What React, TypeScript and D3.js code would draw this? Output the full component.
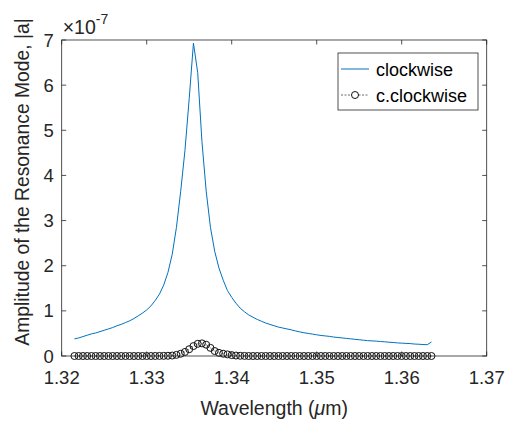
import React from "react";
import * as d3 from "d3";

const W = 511;
const H = 421;

// wavelength grid (µm)
const wlStart = 1.3215;
const wlStep = 0.0005;

// clockwise amplitude (×1e-7)
const clockwise = [
  0.38, 0.40, 0.43, 0.46, 0.49, 0.51, 0.54, 0.57, 0.60, 0.63,
  0.67, 0.70, 0.74, 0.78, 0.83, 0.89, 0.95, 1.02, 1.11, 1.23,
  1.37, 1.57, 1.85, 2.25, 2.85, 3.65, 4.55, 5.70, 6.93, 6.28,
  4.75, 3.65, 2.85, 2.32, 1.95, 1.68, 1.45, 1.30, 1.17, 1.06,
  0.98, 0.91, 0.86, 0.81, 0.77, 0.73, 0.70, 0.67, 0.64, 0.62,
  0.60, 0.58, 0.555, 0.535, 0.515, 0.50, 0.485, 0.47, 0.455, 0.445,
  0.435, 0.42, 0.41, 0.40, 0.39, 0.38, 0.37, 0.36, 0.35, 0.34,
  0.335, 0.33, 0.32, 0.315, 0.305, 0.30, 0.29, 0.285, 0.28, 0.275,
  0.265, 0.26, 0.255, 0.25, 0.31,
];

// counter-clockwise amplitude (×1e-7)
const cclockwise = [
  0, 0, 0, 0, 0, 0, 0, 0, 0, 0,
  0, 0, 0, 0, 0, 0, 0, 0, 0, 0.001,
  0.002, 0.003, 0.005, 0.01, 0.025, 0.05, 0.09, 0.15, 0.22, 0.27,
  0.28, 0.25, 0.18, 0.11, 0.07, 0.05, 0.035, 0.02, 0.01, 0.005,
  0.002, 0, 0, 0, 0, 0, 0, 0, 0, 0,
  0, 0, 0, 0, 0, 0, 0, 0, 0, 0,
  0, 0, 0, 0, 0, 0, 0, 0, 0, 0,
  0, 0, 0, 0, 0, 0, 0, 0, 0, 0,
  0, 0, 0, 0, 0,
];

const xTicks = [1.32, 1.33, 1.34, 1.35, 1.36, 1.37];
const yTicks = [0, 1, 2, 3, 4, 5, 6, 7];
const legendLabels = ["clockwise", "c.clockwise"];

const margin = { left: 61.7, right: W - 486.7, top: 40, bottom: H - 356 };
const FONT = "Arial, 'Liberation Sans', Helvetica, sans-serif";
const AX = "#262626";

export default function App() {
  const x = d3.scaleLinear().domain([1.32, 1.37]).range([margin.left, W - margin.right]);
  const y = d3.scaleLinear().domain([0, 7]).range([H - margin.bottom, margin.top]);
  const wl = clockwise.map((_, i) => wlStart + wlStep * i);
  const line = d3
    .line<number>()
    .x((_, i) => x(wl[i]))
    .y((d) => y(d));

  const x0 = x.range()[0], x1 = x.range()[1];
  const y0 = y.range()[0], y1 = y.range()[1];
  const tl = 4.5;

  const lgX = 338, lgY = 53, lgW = 140, lgH = 57;

  return (
    <div style={{ position: "absolute", left: 0, top: 0 }}>
      <svg width={W} height={H} style={{ display: "block", background: "#fff" }} fontFamily={FONT}>
        <rect x={0} y={0} width={W} height={H} fill="#fff" />
        {/* data */}
        <path d={line(clockwise) || ""} fill="none" stroke="#0072BD" strokeWidth={1} />
        <path d={line(cclockwise) || ""} fill="none" stroke="#000" strokeWidth={0.6} strokeDasharray="1,1.5" />
        {cclockwise.map((d, i) => (
          <circle key={i} cx={x(wl[i])} cy={y(d)} r={3.5} fill="none" stroke="#111" strokeWidth={1} />
        ))}
        {/* axes box */}
        <rect x={x0} y={y1} width={x1 - x0} height={y0 - y1} fill="none" stroke={AX} strokeWidth={0.8} />
        {xTicks.map((t) => (
          <g key={"x" + t}>
            <line x1={x(t)} x2={x(t)} y1={y0} y2={y0 - tl} stroke={AX} strokeWidth={0.8} />
            <line x1={x(t)} x2={x(t)} y1={y1} y2={y1 + tl} stroke={AX} strokeWidth={0.8} />
            <text x={x(t)} y={y0 + 28} textAnchor="middle" fontSize={18.5} fill={AX}>
              {t.toFixed(2)}
            </text>
          </g>
        ))}
        {yTicks.map((t) => (
          <g key={"y" + t}>
            <line x1={x0} x2={x0 + tl} y1={y(t)} y2={y(t)} stroke={AX} strokeWidth={0.8} />
            <line x1={x1} x2={x1 - tl} y1={y(t)} y2={y(t)} stroke={AX} strokeWidth={0.8} />
            <text x={x0 - 8} y={y(t) + 6.5} textAnchor="end" fontSize={18.5} fill={AX}>
              {t}
            </text>
          </g>
        ))}
        {/* exponent */}
        <text x={x0 + 1} y={34} fontSize={19.5} fill={AX}>
          ×10
          <tspan dy={-10} fontSize={14}>-7</tspan>
        </text>
        {/* axis labels */}
        <text x={(x0 + x1) / 2} y={415} textAnchor="middle" fontSize={19.5} fill={AX}>
          Wavelength (<tspan fontStyle="italic">μ</tspan>m)
        </text>
        <text
          transform={`translate(29,${(y0 + y1) / 2 - 16}) rotate(-90)`}
          textAnchor="middle"
          fontSize={19.3}
          fill={AX}
        >
          Amplitude of the Resonance Mode, |a|
        </text>
        {/* legend */}
        <rect x={lgX} y={lgY} width={lgW} height={lgH} fill="#fff" stroke={AX} strokeWidth={0.8} />
        <line x1={lgX + 3} x2={lgX + 31} y1={lgY + 16} y2={lgY + 16} stroke="#0072BD" strokeWidth={1} />
        <text x={lgX + 38} y={lgY + 22.5} fontSize={18} fill="#000">{legendLabels[0]}</text>
        <line x1={lgX + 3} x2={lgX + 31} y1={lgY + 42} y2={lgY + 42} stroke="#444" strokeWidth={0.8} strokeDasharray="2,1.5" />
        <circle cx={lgX + 17} cy={lgY + 42} r={3.5} fill="#fff" stroke="#111" strokeWidth={1} />
        <text x={lgX + 38} y={lgY + 48.5} fontSize={18} fill="#000">{legendLabels[1]}</text>
      </svg>
    </div>
  );
}
